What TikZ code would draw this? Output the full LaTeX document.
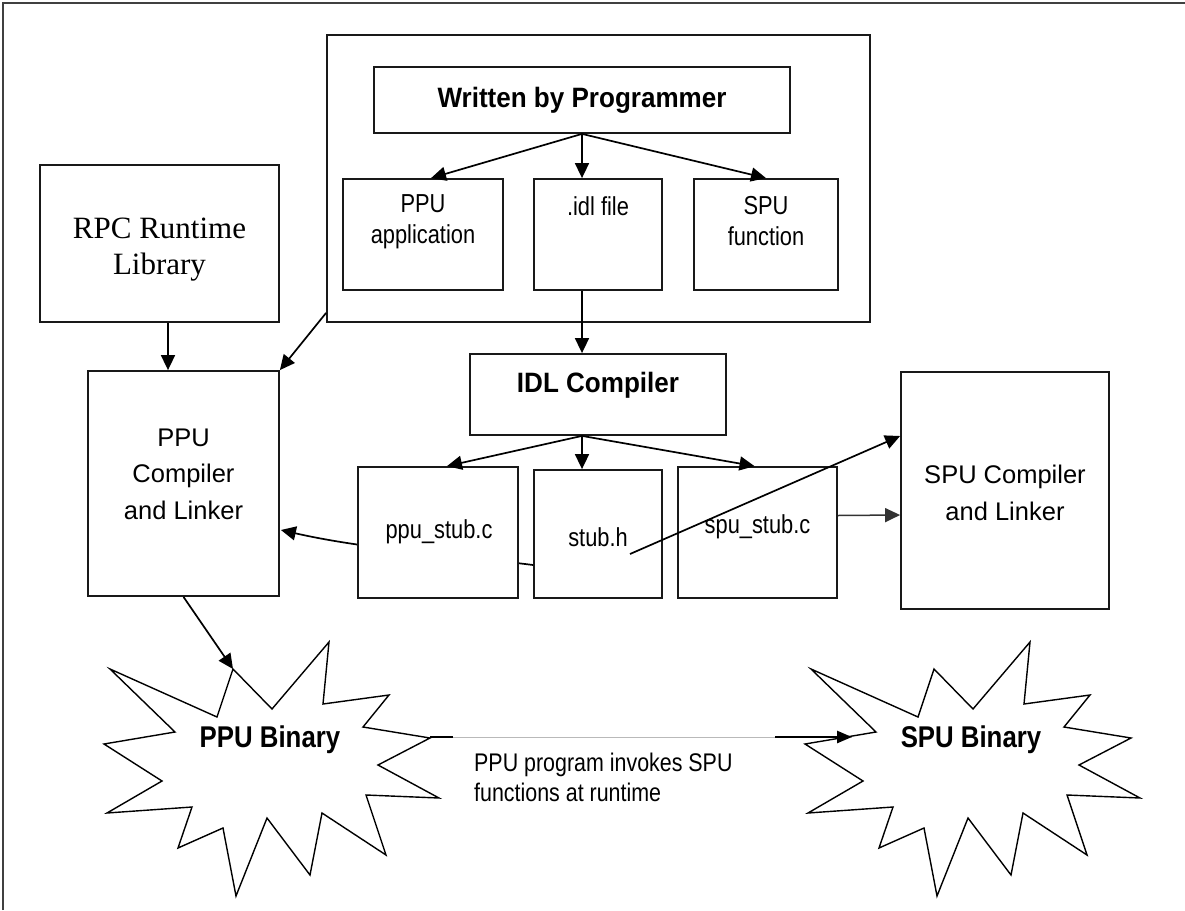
\documentclass[tikz,border=0pt]{standalone}
\usepackage{fontspec}
\setmainfont{Liberation Sans}
\newfontfamily\fArial{Liberation Sans}
\newfontfamily\fArialN[FakeStretch=0.84]{Liberation Sans}
\newfontfamily\fArialB[FakeStretch=0.93]{Liberation Sans}
\newfontfamily\fArialBN[FakeStretch=0.86]{Liberation Sans}
\newfontfamily\fTimes{Liberation Serif}
\usetikzlibrary{arrows.meta,calc}
\tikzset{
  box/.style n args={2}{draw=black!90, line width=1.8pt, fill=white, inner sep=0pt,
    minimum width=#1pt, minimum height=#2pt},
  arr/.style={line width=1.7pt, -{Triangle[length=15pt,width=14pt]}},
  tn/.style={font=\fArialN\fontsize{26}{31}\selectfont, align=center, inner sep=0pt},
  tc/.style={font=\fArial\fontsize{25.5}{36.5}\selectfont, align=center, inner sep=0pt},
  tb/.style={font=\fArialB\bfseries\fontsize{28}{32}\selectfont, inner sep=0pt},
  tbin/.style={font=\fArialBN\bfseries\fontsize{30}{34}\selectfont, inner sep=0pt},
  tt/.style={font=\fTimes\fontsize{31}{36}\selectfont, align=center, inner sep=0pt},
  burst/.pic={
    \draw[line width=1.4pt, fill=white] (-160,-71) -- (-53,-23) -- (-37,-71) -- (2,-31)
      -- (59,-98) -- (53,-36) -- (119,-45) -- (93,-13) -- (160,-2) -- (108,25)
      -- (169,58) -- (96,55) -- (116,115) -- (52,73) -- (40,135) -- (-3,78)
      -- (-34,156) -- (-47,88) -- (-92,108) -- (-78,67) -- (-163,73) -- (-108,41)
      -- (-166,4) -- (-95,-8) -- cycle;
    \coordinate (-top) at (-37,-71);
    \coordinate (-east) at (160,-3);
    \coordinate (-west) at (-119,-3);
  }
}
\begin{document}
\begin{tikzpicture}[x=1pt,y=-1pt]
\useasboundingbox (0,0) rectangle (1185,910);
% outer frame
\draw[line width=1.8pt, black!75] (3,910) -- (3,3) -- (1185,3);

% programmer group
\node[box={543}{287}] (prog) at (598.5,178.5) {};
\node[box={416}{66}] (written) at (582,100) {};
\node[tb] (written-t) at (582,100) {Written by Programmer};
\node[box={160}{111}] (ppuapp) at (423,234.5) {};
\node[tn] (ppuapp-t) at (423,221.5) {PPU\\application};
\node[box={128}{111}] (idlfile) at (598,234.5) {};
\node[tn] (idlfile-t) at (598,206) {.idl file};
\node[box={144}{111}] (spufunc) at (766,234.5) {};
\node[tn] (spufunc-t) at (766,221.5) {SPU\\function};

\draw[arr] (written.south) -- ([xshift=8pt]ppuapp.north);
\draw[arr] (written.south) -- (written.south |- idlfile.north);
\draw[arr] (written.south) -- (spufunc.north);

% RPC library and PPU compiler
\node[box={239}{157}] (rpc) at (159.5,243.5) {};
\node[tt] (rpc-t) at (159.5,250) {RPC Runtime\\Library};
\node[box={191}{225}] (ppucomp) at (183.5,483.5) {};
\node[tc] (ppucomp-t) at (183.5,474) {PPU\\Compiler\\and Linker};
\draw[arr] ([xshift=8.5pt]rpc.south) -- ([xshift=8.5pt]rpc.south |- ppucomp.north);
\draw[arr] ([yshift=10pt]prog.south west) -- (ppucomp.north east);

% IDL compiler
\node[box={256}{81}] (idlc) at (598,394.5) {};
\node[tb] (idlc-t) at (598,385) {IDL Compiler};
\coordinate (idlout) at (written.south |- idlc.south);
\draw[arr] (written.south |- idlfile.south) -- (written.south |- idlc.north);

% stubs
\node[box={128}{128}] (stubh) at (598,534) {};
\node[tn] (stubh-t) at (598,537) {stub.h};
\draw[arr] ($(stubh.west)+(0,31)$) .. controls ($(stubh.west)+(-85,20.4)$) and ($(ppucomp.east)+(86,65.8)$) .. ($(ppucomp.east)+(1,46.5)$);
\node[box={160}{131}] (ppustub) at (438,532.5) {};
\node[tn] (ppustub-t) at (439,532) {ppu\_stub.c};
\node[box={159}{131}] (spustub) at (757.5,532.5) {};
\node[tn] (spustub-t) at (757.5,527) {spu\_stub.c};

\draw[arr] (idlout) -- ([xshift=9pt]ppustub.north);
\draw[arr] (idlout) -- (idlout |- stubh.north);
\draw[arr] (idlout) -- ([xshift=-3pt]spustub.north);

% SPU compiler
\node[box={208}{237}] (spucomp) at (1005,490.5) {};
\node[tc] (spucomp-t) at (1005,493) {SPU Compiler\\and Linker};
\draw[arr] ($(stubh.center)+(32,20)$) -- ($(spucomp.west)+(0,-54.5)$);
\draw[arr, line width=1.5pt, black!80] ($(spustub.east)+(0,-17)$) -- ($(spucomp.west)+(0,24.5)$);

% binaries
\pic (ppub) at (270,740) {burst};
\node[tbin] (ppubin) at (270,740) {PPU Binary};
\pic (spub) at (971,740) {burst};
\node[tbin] (spubin) at (971,740) {SPU Binary};

\draw[arr] (ppucomp.south) -- (ppub-top);
\draw[gray!55, line width=0.9pt] (ppub-east) -- (spub-west);
\draw[line width=2.6pt] (ppub-east) -- ++(23,0);
\draw[line width=2.6pt, -{Triangle[length=15pt,width=12pt]}] ($(spub-west)+(-77,0)$) -- (spub-west);
\node[tn, anchor=west, align=left, font=\fArialN\fontsize{25.5}{30}\selectfont] (caption) at (474,777) {PPU program invokes SPU\\functions at runtime};
\end{tikzpicture}
\end{document}
